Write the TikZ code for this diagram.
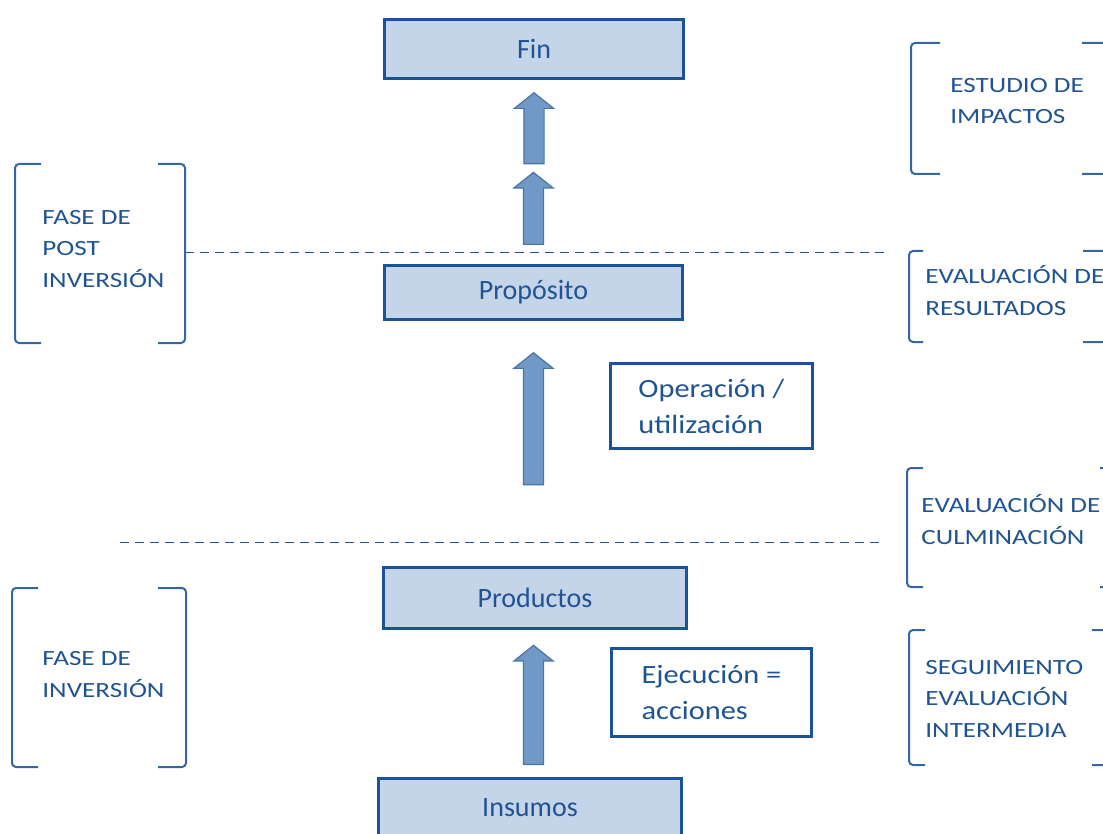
\documentclass[tikz,border=0pt]{standalone}
\usepackage{fontspec}
\setmainfont{Carlito}
\newfontfamily\etiqfont{Carlito}[FakeStretch=1.25]
\newfontfamily\notafont{Carlito}[FakeStretch=1.15]
\usetikzlibrary{shapes,arrows,positioning,calc}
\definecolor{azul}{RGB}{31,83,148}
\definecolor{borde}{RGB}{28,82,150}
\definecolor{relleno}{RGB}{197,213,233}
\definecolor{flechafill}{RGB}{113,153,197}
\definecolor{flechaborde}{RGB}{72,116,166}
\definecolor{colcorchete}{RGB}{52,102,160}

\tikzset{
  caja/.style={rectangle, draw=borde, line width=1.5pt, fill=relleno, text=azul, font=\fontsize{14}{16}\selectfont},
  nota/.style={rectangle, draw=borde, line width=1.5pt, fill=white, text=azul, align=left, font=\notafont\fontsize{13.2}{18}\selectfont},
  subida/.style={single arrow, draw=flechaborde, line width=0.6pt, fill=flechafill, rotate=90, inner xsep=0pt, inner ysep=4.75pt, single arrow head extend=4.75pt, single arrow tip angle=103, minimum width=0pt},
  etiqueta/.style={anchor=base west, align=left, inner sep=0pt, text=azul, font=\etiqfont\fontsize{10.85}{15.75}\selectfont},
  corchete/.style={draw=colcorchete, line width=1pt, rounded corners=2pt},
  division/.style={draw=borde, line width=0.8pt, dash pattern=on 4.5pt off 3pt}
}

\begin{document}
\begin{tikzpicture}[x=0.5pt, y=-0.5pt]
    \useasboundingbox (0,0) rectangle (1103,834);

    % Niveles
    \node[caja, minimum width=149.5pt, minimum height=29.5pt] (fin) at (534,49) {Fin};
    \node[caja, minimum width=149pt, minimum height=27pt] (prop) at (533.5,292.5) {Propósito};
    \node[caja, minimum width=151.5pt, minimum height=30.5pt] (prod) at (535,598) {Productos};
    \node[caja, minimum width=151.5pt, minimum height=29.5pt] (ins) at (530,808) {Insumos};

    % Flechas
    \node[subida, minimum height=35.5pt, anchor=tip] (f1) at ($(fin.south)+(0,-6pt)$) {};
    \node[subida, minimum height=36pt, anchor=tail] (f2) at ($(prop.north)+(0,9.5pt)$) {};
    \node[subida, minimum height=66pt, anchor=tip] (f3) at ($(prop.south)+(0,-15.5pt)$) {};
    \node[subida, minimum height=59.5pt, anchor=tail] (f4) at ($(ins.north -| prop.south)+(0,6pt)$) {};

    % Notas
    \node[nota, minimum width=101pt, minimum height=42.5pt] (operacion) at (711.5,406) {Operación /\\utilización};
    \node[nota, minimum width=100pt, minimum height=44pt] (ejecucion) at (711.5,692.5) {Ejecución =\\acciones};

    % Divisiones
    \draw[division] (185,252.5) -- (885,252.5);
    \draw[division] (120,542.5) -- (885,542.5);

    % Corchetes
    \foreach \xa/\la/\xb/\lb/\ya/\yb in {15/26/185/27/164/343, 12/26/186/28/588/767,
        911/29/1110/28/43/174, 909/14/1110/27/251/342, 907/16/1110/10/468/587, 909/16/1110/18/630/765}{
      \draw[corchete] (\xa+\la,\ya) -- (\xa,\ya) -- (\xa,\yb) -- (\xa+\la,\yb);
      \draw[corchete] (\xb-\lb,\ya) -- (\xb,\ya) -- (\xb,\yb) -- (\xb-\lb,\yb);
    }

    % Etiquetas (base = ultima linea)
    \node[etiqueta] (postinv) at (42,287) {FASE DE\\POST\\INVERSIÓN};
    \node[etiqueta] (inversion) at (42,697) {FASE DE\\INVERSIÓN};
    \node[etiqueta] (impactos) at (950,124) {ESTUDIO DE\\IMPACTOS};
    \node[etiqueta] (resultados) at (925,315) {EVALUACIÓN DE\\RESULTADOS};
    \node[etiqueta] (culminacion) at (921,544) {EVALUACIÓN DE\\CULMINACIÓN};
    \node[etiqueta] (seguimiento) at (925,737) {SEGUIMIENTO\\EVALUACIÓN\\INTERMEDIA};
\end{tikzpicture}
\end{document}
